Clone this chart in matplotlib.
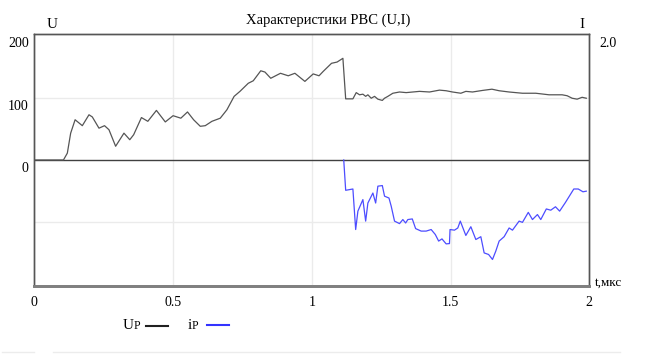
import matplotlib
matplotlib.use("Agg")
import matplotlib.pyplot as plt
import matplotlib.transforms as mtransforms
from matplotlib.lines import Line2D

plt.rcParams['font.family'] = ['Liberation Serif', 'DejaVu Serif']

# voltage U(t)
t_u = [0.0, 0.105, 0.119, 0.131, 0.147, 0.173, 0.197, 0.209, 0.233, 0.253,
       0.269, 0.293, 0.323, 0.344, 0.358, 0.386, 0.409, 0.44, 0.472, 0.50,
       0.528, 0.552, 0.574, 0.598, 0.616, 0.64, 0.67, 0.694, 0.72, 0.741,
       0.771, 0.789, 0.816, 0.831, 0.852, 0.887, 0.915, 0.939, 0.975, 1.005,
       1.026, 1.041, 1.071, 1.091, 1.112, 1.122, 1.148, 1.16, 1.172, 1.184,
       1.194, 1.202, 1.214, 1.226, 1.238, 1.254, 1.262, 1.274, 1.292, 1.316,
       1.34, 1.388, 1.424, 1.46, 1.484, 1.507, 1.537, 1.555, 1.579, 1.615,
       1.649, 1.675, 1.711, 1.759, 1.807, 1.855, 1.902, 1.92, 1.938, 1.956,
       1.974, 1.989]
u_vals = [0, 0, 11, 43, 64.5, 55, 72.5, 69, 51, 55,
          48.5, 22, 43, 32.5, 40.5, 68, 62, 79.5, 61, 71,
          67, 77, 64.5, 54, 55, 62, 67, 80.5, 102, 110,
          123, 127, 143, 141, 131, 139, 135, 139, 126, 138,
          135, 142, 155, 157, 163, 98, 98, 108, 104.5, 105.5,
          102, 104.5, 99, 102, 97.5, 95.5, 99, 102, 107, 109,
          108, 110, 109, 112, 111, 109, 107, 110, 109, 111.5,
          113.5, 111, 109, 107, 107, 104.5, 104.5, 103, 99, 97.5,
          100.5, 99]

# current I(t)
t_i = [1.115, 1.122, 1.148, 1.158, 1.166, 1.184, 1.194, 1.202, 1.22, 1.23,
       1.238, 1.254, 1.262, 1.278, 1.286, 1.298, 1.316, 1.328, 1.338, 1.346,
       1.362, 1.374, 1.394, 1.412, 1.43, 1.445, 1.457, 1.469, 1.484, 1.496,
       1.498, 1.514, 1.526, 1.535, 1.555, 1.573, 1.591, 1.609, 1.621, 1.637,
       1.651, 1.663, 1.675, 1.693, 1.711, 1.723, 1.747, 1.759, 1.78, 1.795,
       1.813, 1.825, 1.845, 1.861, 1.878, 1.893, 1.914, 1.944, 1.96, 1.977,
       1.989]
i_vals = [0, -0.486, -0.465, -1.115, -0.82, -0.635, -0.98, -0.69, -0.53, -0.69,
          -0.42, -0.41, -0.58, -0.61, -0.74, -0.98, -1.02, -0.955, -1.01, -0.955,
          -0.945, -1.10, -1.14, -1.14, -1.115, -1.195, -1.30, -1.265, -1.345, -1.34,
          -1.115, -1.125, -1.09, -0.98, -1.21, -1.07, -1.275, -1.23, -1.49, -1.515,
          -1.595, -1.46, -1.30, -1.23, -1.09, -1.125, -0.98, -1.00, -0.84, -0.955,
          -0.875, -0.955, -0.785, -0.805, -0.75, -0.82, -0.68, -0.465, -0.465, -0.51,
          -0.50]

x_ticks = [0, 0.5, 1, 1.5, 2]
x_labels = ['0', '0.5', '1', '1.5', '2']
u_ticks = [0, 100, 200]
i_ticks = [2.0]

fig = plt.figure(figsize=(6.45, 3.6), dpi=100)
ax = fig.add_axes([0.0532, 0.2056, 0.8605, 0.7])

ax.set_xlim(0, 2)
ax.set_ylim(-202, 202)
for gx in [0.5, 1, 1.5]:
    ax.axvline(gx, color='#ebebeb', lw=1.0, zorder=0)
for gy in [100, -100]:
    ax.axhline(gy, color='#ebebeb', lw=1.0, zorder=0)
ax.axhline(0, color='#404040', lw=1.0, zorder=1)

ax.plot(t_u, u_vals, color='#555555', lw=0.9, zorder=2)

ax2 = ax.twinx()
ax2.set_ylim(-2.02, 2.02)
ax2.plot(t_i, i_vals, color='#4d4dff', lw=0.9)

for a in (ax, ax2):
    for side in ('top', 'left', 'right'):
        a.spines[side].set_color('#555555')
        a.spines[side].set_linewidth(1.0)
    a.spines['bottom'].set_color('#808080')
    a.spines['bottom'].set_linewidth(2.0)
    a.tick_params(length=0, labelsize=10)

ax.set_xticks(x_ticks)
ax.set_xticklabels(x_labels)
ax.tick_params(axis='x', pad=7)
ax.set_yticks(u_ticks)
ax.tick_params(axis='y', pad=4)
ax2.set_yticks(i_ticks)
ax2.set_yticklabels(['2.0'])
ax2.tick_params(axis='y', pad=7)

down = mtransforms.ScaledTranslation(0, -5 / 72, fig.dpi_scale_trans)
for lab in ax.get_yticklabels() + ax2.get_yticklabels():
    lab.set_transform(lab.get_transform() + down)

fig.text(328 / 645, 1 - 20 / 360, 'Характеристики РВС (U,I)', ha='center', va='center', fontsize=10.5)
fig.text(52 / 645, 1 - 24 / 360, 'U', ha='center', va='center', fontsize=11)
fig.text(582 / 645, 1 - 25 / 360, 'I', ha='center', va='center', fontsize=11)
fig.text(595 / 645, 1 - 283 / 360, 't,мкс', ha='left', va='center', fontsize=9.5)

# legend
base = 1 - 329 / 360
fig.text(123 / 645, base, 'U', ha='left', va='baseline', fontsize=11)
fig.text(134 / 645, base, 'P', ha='left', va='baseline', fontsize=8.5)
fig.add_artist(Line2D([146 / 645, 168 / 645], [1 - 326 / 360] * 2, color='#202020', lw=1.5))
fig.text(188 / 645, base, 'i', ha='left', va='baseline', fontsize=11)
fig.text(192 / 645, base, 'P', ha='left', va='baseline', fontsize=8.5)
fig.add_artist(Line2D([207 / 645, 229 / 645], [1 - 325 / 360] * 2, color='#3333ff', lw=1.5))

# faint divider at the bottom
fig.add_artist(Line2D([2 / 645, 34 / 645], [1 - 352 / 360] * 2, color='#ececec', lw=1))
fig.add_artist(Line2D([53 / 645, 620 / 645], [1 - 352 / 360] * 2, color='#ececec', lw=1))

fig.savefig('out.png', dpi=100)
